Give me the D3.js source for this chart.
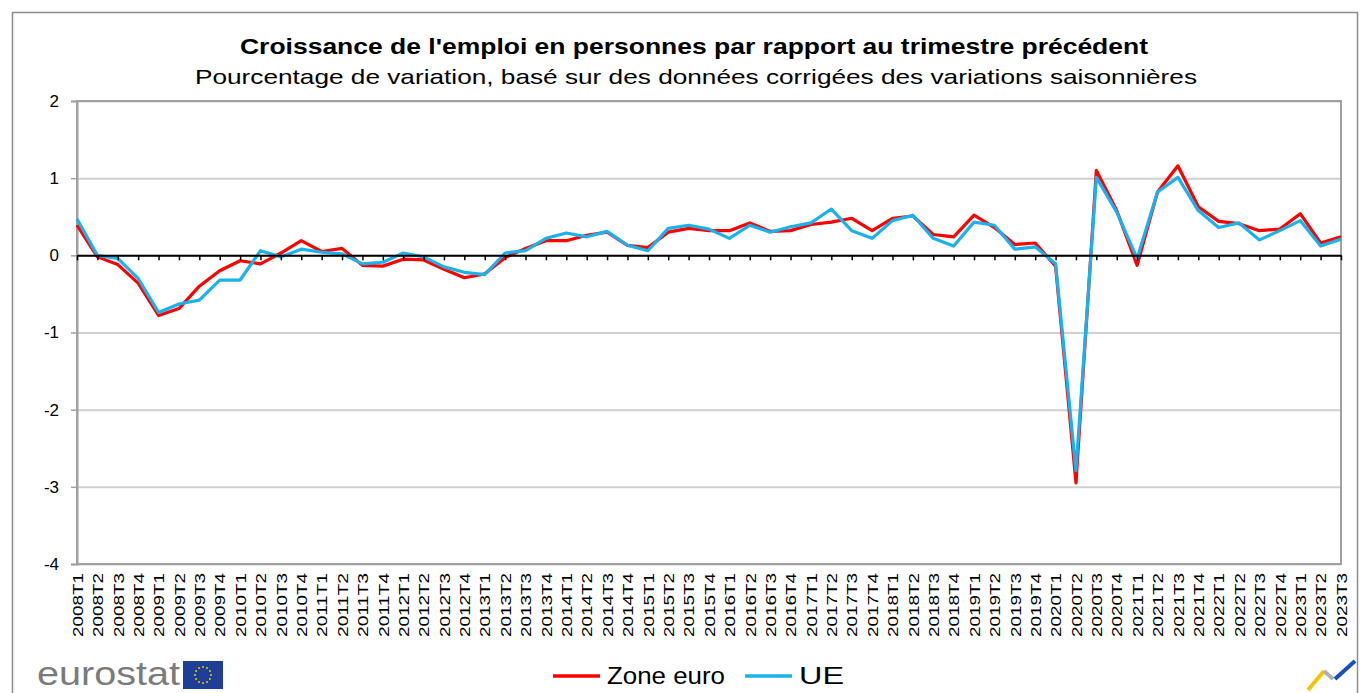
<!DOCTYPE html>
<html lang="fr">
<head>
  <meta charset="UTF-8">
  <title>Croissance de l'emploi</title>
  <script src="https://d3js.org/d3.v7.min.js"></script>
  <style>
    body { margin: 0; background: #fff; }
    .grid .domain { stroke: none; }
    .grid line { stroke: #d0d0d0; stroke-width: 2; }
    .yaxis text { font: 17px "Liberation Sans", Arial, sans-serif; fill: #000; }
    .xlab text { font: 15px "Liberation Sans", Arial, sans-serif; fill: #000; }
  </style>
</head>
<body>
  <svg id="chart" width="1362" height="693"></svg>
  <script>
    // quarters 2008T1 .. 2023T3
    const quarters = [];
    for (let yr = 2008; yr <= 2023; yr++) {
      for (let q = 1; q <= 4; q++) {
        if (yr === 2023 && q > 3) break;
        quarters.push(yr + "T" + q);
      }
    }

    const zoneEuro = [
      0.39, -0.02, -0.12, -0.36, -0.78, -0.69, -0.40, -0.20,
      -0.07, -0.11, 0.03, 0.19, 0.05, 0.09, -0.13, -0.14,
      -0.05, -0.06, -0.18, -0.29, -0.24, -0.03, 0.09, 0.19,
      0.19, 0.26, 0.30, 0.13, 0.10, 0.30, 0.35, 0.32,
      0.32, 0.42, 0.31, 0.32, 0.40, 0.43, 0.48, 0.32,
      0.48, 0.51, 0.27, 0.24, 0.52, 0.36, 0.14, 0.16,
      -0.14, -2.95, 1.10, 0.58, -0.13, 0.82, 1.16, 0.63,
      0.44, 0.41, 0.32, 0.34, 0.54, 0.16, 0.24
    ];
    const ue = [
      0.47, 0.00, -0.04, -0.30, -0.74, -0.63, -0.58, -0.32,
      -0.32, 0.06, -0.02, 0.08, 0.04, 0.02, -0.11, -0.09,
      0.03, -0.02, -0.15, -0.22, -0.25, 0.03, 0.06, 0.22,
      0.29, 0.24, 0.31, 0.13, 0.06, 0.35, 0.39, 0.34,
      0.22, 0.39, 0.30, 0.37, 0.42, 0.60, 0.32, 0.22,
      0.45, 0.52, 0.22, 0.12, 0.43, 0.39, 0.08, 0.11,
      -0.11, -2.79, 1.01, 0.56, -0.04, 0.82, 1.01, 0.58,
      0.36, 0.42, 0.20, 0.32, 0.45, 0.12, 0.21
    ];
    const yTicks = [-4, -3, -2, -1, 0, 1, 2];

    const svg = d3.select("svg#chart");
    const plot = {left: 77, right: 1341, top: 101, bottom: 564};

    const x = d3.scalePoint().domain(quarters).range([plot.left, plot.right]);
    const y = d3.scaleLinear().domain([-4, 2]).range([plot.bottom, plot.top]);

    // outer frame
    svg.append("rect")
       .attr("x", 12.5).attr("y", 12.5)
       .attr("width", 1345).attr("height", 700)
       .attr("fill", "none").attr("stroke", "#8c8c8c").attr("stroke-width", 1.5);

    // titles
    svg.append("text")
       .attr("x", 694).attr("y", 54)
       .attr("text-anchor", "middle")
       .attr("textLength", 908).attr("lengthAdjust", "spacingAndGlyphs")
       .style("font", "bold 22px 'Liberation Sans', Arial, sans-serif")
       .text("Croissance  de l'emploi en personnes  par rapport au trimestre  précédent");
    svg.append("text")
       .attr("x", 696).attr("y", 84)
       .attr("text-anchor", "middle")
       .attr("textLength", 1002).attr("lengthAdjust", "spacingAndGlyphs")
       .style("font", "21px 'Liberation Sans', Arial, sans-serif")
       .text("Pourcentage  de variation,  basé sur des données  corrigées des variations  saisonnières");

    // horizontal gridlines
    svg.append("g")
       .attr("class", "grid")
       .attr("transform", `translate(${plot.left},0)`)
       .call(d3.axisLeft(y).tickValues(yTicks).tickFormat("").tickSize(-(plot.right - plot.left)));

    // plot border
    svg.append("rect")
       .attr("x", plot.left).attr("y", plot.top)
       .attr("width", plot.right - plot.left).attr("height", plot.bottom - plot.top)
       .attr("fill", "none").attr("stroke", "#a0a0a0").attr("stroke-width", 2);

    // y axis with labels
    const yAxis = svg.append("g")
       .attr("class", "yaxis")
       .attr("transform", `translate(${plot.left},0)`)
       .call(d3.axisLeft(y).tickValues(yTicks).tickFormat(d => String(d)).tickSize(6).tickPadding(12));
    yAxis.select(".domain").attr("stroke", "#a0a0a0").attr("stroke-width", 2);
    yAxis.selectAll(".tick line").attr("stroke", "#a0a0a0").attr("stroke-width", 1.5);

    // category labels
    const xLab = svg.append("g")
       .attr("class", "xlab")
       .attr("transform", `translate(0,${plot.bottom})`)
       .call(d3.axisBottom(x).tickSize(0));
    xLab.select(".domain").remove();
    xLab.selectAll("text")
        .attr("transform", "rotate(-90)")
        .attr("text-anchor", "end")
        .attr("textLength", 64).attr("lengthAdjust", "spacingAndGlyphs")
        .attr("x", -9).attr("y", 0).attr("dy", "0.35em");

    // lines
    const line = d3.line()
        .x((d, i) => x(quarters[i]))
        .y(d => y(d));

    svg.append("path")
       .datum(zoneEuro)
       .attr("fill", "none").attr("stroke", "#ff0000")
       .attr("stroke-width", 3.2).attr("stroke-linejoin", "round")
       .attr("d", line);
    svg.append("path")
       .datum(ue)
       .attr("fill", "none").attr("stroke", "#1ab2ec")
       .attr("stroke-width", 3.2).attr("stroke-linejoin", "round")
       .attr("d", line);

    // zero axis with tick marks
    const zeroAxis = svg.append("g")
       .attr("transform", `translate(0,${y(0)})`)
       .call(d3.axisBottom(x).tickSize(5).tickFormat("").tickSizeOuter(0));
    zeroAxis.select(".domain").attr("stroke", "#000").attr("stroke-width", 2);
    zeroAxis.selectAll(".tick line").attr("stroke", "#000").attr("stroke-width", 1.5);

    // legend
    const legend = [
      {name: "Zone euro", color: "#ff0000", x: 553, w: 118},
      {name: "UE", color: "#1ab2ec", x: 745, w: 45}
    ];
    legend.forEach(d => {
      svg.append("line")
         .attr("x1", d.x).attr("x2", d.x + 47)
         .attr("y1", 676).attr("y2", 676)
         .attr("stroke", d.color).attr("stroke-width", 3.5);
      svg.append("text")
         .attr("x", d.x + 54).attr("y", 684)
         .attr("textLength", d.w).attr("lengthAdjust", "spacingAndGlyphs")
         .style("font", "23px 'Liberation Sans', Arial, sans-serif")
         .text(d.name);
    });

    // eurostat logo
    svg.append("text")
       .attr("x", 37).attr("y", 685)
       .attr("textLength", 143).attr("lengthAdjust", "spacingAndGlyphs")
       .style("font", "33px 'Liberation Sans', Arial, sans-serif")
       .style("fill", "#7b7b7b")
       .text("eurostat");
    svg.append("rect")
       .attr("x", 183).attr("y", 661).attr("width", 40).attr("height", 28)
       .attr("fill", "#1f3f97");
    d3.range(12).forEach(k => {
      const a = k / 12 * 2 * Math.PI;
      svg.append("circle")
         .attr("cx", 203 + 8 * Math.cos(a)).attr("cy", 675 + 8 * Math.sin(a))
         .attr("r", 1).attr("fill", "#e8d200");
    });

    // corner mark
    svg.append("path")
       .attr("d", "M1308,690 L1324,671")
       .attr("stroke", "#f5c400").attr("stroke-width", 4).attr("fill", "none");
    svg.append("path")
       .attr("d", "M1324,671 L1333,679")
       .attr("stroke", "#b0b0b0").attr("stroke-width", 4).attr("fill", "none");
    svg.append("path")
       .attr("d", "M1335,679 L1355,661")
       .attr("stroke", "#1a4fc4").attr("stroke-width", 4).attr("fill", "none");
  </script>
</body>
</html>
